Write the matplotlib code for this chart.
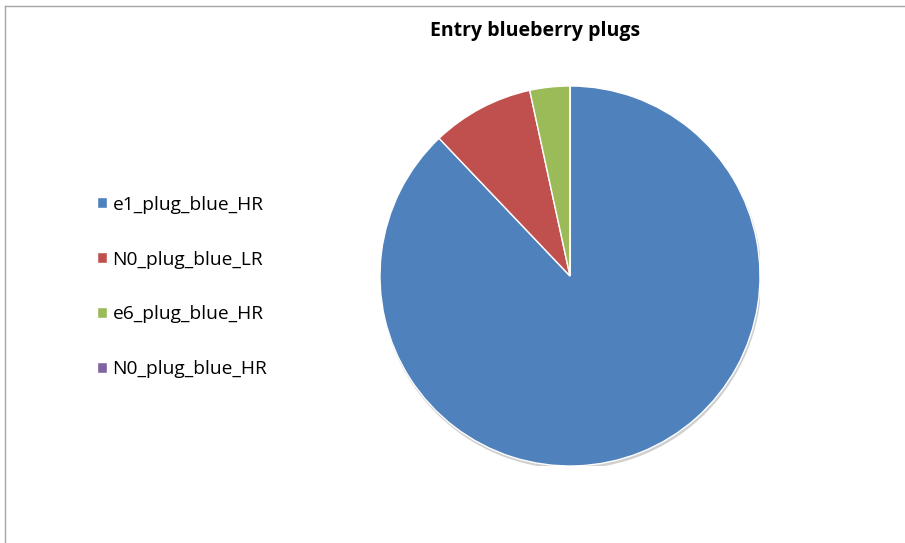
import matplotlib.pyplot as plt
from matplotlib.patches import Circle

plt.rcParams['font.family'] = ['Open Sans', 'DejaVu Sans']

labels = ['e1_plug_blue_HR', 'N0_plug_blue_LR', 'e6_plug_blue_HR', 'N0_plug_blue_HR']
values = [87.9, 8.7, 3.4, 0.0]
colors = ['#4F81BD', '#C0504D', '#9BBB59', '#8064A2']

fig = plt.figure(figsize=(9.05, 5.43), dpi=100)

# chart frame (only top/left edges visible in the reference)
fig.add_artist(plt.Line2D([5 / 905, 5 / 905], [0, 1 - 6 / 543], color='#a6a6a6', lw=1))
fig.add_artist(plt.Line2D([5 / 905, 1], [1 - 6 / 543, 1 - 6 / 543], color='#a6a6a6', lw=1))

ax = fig.add_axes([380 / 905, 77 / 543, 380 / 905, 380 / 543])
ax.add_patch(Circle((0.005, -0.012), 1.0, color='#d0d0d0', zorder=0))
wedges, _ = ax.pie(values, colors=colors, startangle=90, counterclock=False,
                   wedgeprops=dict(edgecolor='white', linewidth=1))
ax.set_xlim(-1.0, 1.0)
ax.set_ylim(-1.0, 1.0)
ax.set_aspect('equal')
ax.axis('off')

fig.text(535 / 905, 1 - 31 / 543, 'Entry blueberry plugs', ha='center', va='center',
         fontsize=14, fontweight='bold')

fig.legend(wedges, labels, loc='center left', bbox_to_anchor=(80 / 905, 1 - 287 / 543),
           frameon=False, fontsize=13.8, labelspacing=1.93, handlelength=0.5,
           handleheight=0.5, handletextpad=0.3)

fig.savefig('out.png', dpi=100)
